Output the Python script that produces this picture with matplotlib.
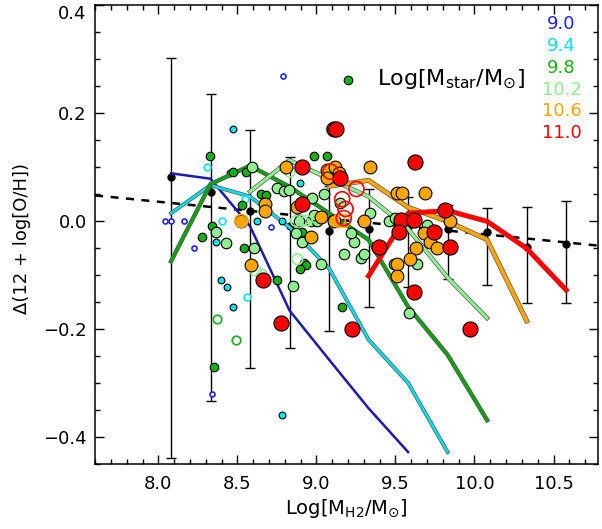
import matplotlib
matplotlib.use('Agg')
import matplotlib.pyplot as plt
import matplotlib.patheffects as pe
from matplotlib.ticker import MultipleLocator
import numpy as np

################################################################
# binned medians with error bars (all galaxies)
bin_x = [8.08, 8.33, 8.58, 8.83, 9.08, 9.33, 9.58, 9.83, 10.08, 10.33, 10.58]
bin_med = [0.081, 0.053, 0.018, -0.010, -0.018, -0.015, -0.011, -0.015, -0.021, -0.048, -0.043]
bin_lo = [-0.439, -0.334, -0.272, -0.236, -0.204, -0.159, -0.122, -0.108, -0.118, -0.152, -0.152]
bin_hi = [0.302, 0.235, 0.168, 0.118, 0.065, 0.059, 0.044, 0.030, 0.024, 0.025, 0.036]

# linear fit (dashed)
fit_slope = -0.0292
fit_icpt = 0.269
fit_range = [7.6, 10.78]

# running medians per stellar mass bin
mass_labels = ['9.0', '9.4', '9.8', '10.2', '10.6', '11.0']
med_x = [bin_x[0:7], bin_x[0:8], bin_x[0:9], bin_x[2:9], bin_x[4:10], bin_x[5:11]]
med_y = [
    [0.088, 0.078, -0.010, -0.166, -0.257, -0.347, -0.428],
    [0.014, 0.066, 0.045, -0.012, -0.088, -0.220, -0.300, -0.428],
    [-0.075, 0.068, 0.102, 0.063, 0.014, -0.035, -0.159, -0.248, -0.369],
    [0.054, 0.112, 0.078, 0.045, -0.015, -0.105, -0.180],
    [0.064, 0.075, 0.025, -0.001, -0.035, -0.185],
    [-0.102, 0.014, 0.019, -0.001, -0.051, -0.128],
]

# individual galaxies, filled symbols
x_90 = []
y_90 = []
x_94 = [8.474, 8.621, 8.784, 8.893, 8.362, 8.394, 8.436, 8.474, 8.784, 8.453]
y_94 = [0.170, 0.000, 0.000, 0.070, -0.039, -0.110, -0.122, -0.160, -0.360, 0.089]
x_98 = [9.201, 8.326, 8.341, 8.474, 8.552, 8.527, 8.647, 8.678, 8.274, 8.541,
        8.984, 9.064, 8.910, 8.920, 8.937, 8.899, 8.752, 8.351, 9.163]
y_98 = [0.260, 0.120, -0.010, 0.090, 0.090, 0.030, 0.050, 0.048, -0.030, -0.050,
        0.120, 0.120, -0.020, -0.078, -0.082, -0.090, -0.110, -0.271, -0.160]
x_102 = [8.594, 8.752, 8.794, 8.826, 8.868, 8.889, 8.963, 9.005, 9.047, 8.604,
         8.362, 8.430, 8.910, 8.852, 9.026, 9.173, 9.279, 9.300, 9.236, 9.216,
         9.342, 9.458, 9.500, 9.489, 9.637, 9.700, 9.584, 8.973, 9.152, 8.984]
y_102 = [0.100, 0.060, 0.055, 0.057, -0.023, 0.000, 0.000, 0.000, 0.050, -0.050,
         -0.020, -0.041, -0.040, -0.120, -0.080, -0.061, -0.069, -0.061, -0.040, -0.022,
         0.015, 0.000, 0.005, -0.080, -0.080, -0.007, -0.171, 0.042, 0.033, 0.010]
x_106 = [8.805, 8.674, 8.674, 8.879, 8.520, 9.030, 8.963, 9.068, 9.120, 9.142,
         9.068, 9.342, 9.300, 9.511, 9.542, 9.690, 9.679, 9.721, 9.764, 9.633,
         9.595, 9.511, 9.511, 9.848, 8.588, 9.110]
y_106 = [0.100, 0.032, 0.018, 0.026, 0.000, 0.008, -0.030, 0.094, 0.100, 0.088,
         0.079, 0.100, 0.000, 0.051, 0.051, 0.051, -0.022, -0.040, -0.050, -0.050,
         -0.071, -0.080, -0.102, -0.001, -0.081, 0.000]
x_110 = [8.910, 8.910, 9.148, 9.110, 9.122, 9.626, 9.532, 9.616, 9.521, 9.816,
         9.742, 9.848, 9.394, 9.616, 9.226, 9.974, 8.773, 8.664]
y_110 = [0.100, 0.031, 0.079, 0.170, 0.170, 0.109, 0.002, 0.002, -0.020, 0.020,
         -0.020, -0.048, -0.048, -0.131, -0.200, -0.200, -0.190, -0.110]

# individual galaxies, open symbols
ox_90 = [8.042, 8.082, 8.164, 8.225, 8.710, 8.790, 8.341]
oy_90 = [0.000, 0.000, 0.000, -0.051, -0.011, 0.269, -0.321]
ox_94 = [8.310, 8.549, 8.400, 8.564]
oy_94 = [0.099, 0.040, 0.000, -0.141]
ox_98 = [8.373, 8.493]
oy_98 = [-0.181, -0.220]
ox_102 = [8.830, 9.095, 8.615, 8.657, 8.870, 8.910, 8.940, 8.879]
oy_102 = [0.091, 0.170, -0.092, -0.100, 0.000, 0.000, 0.000, -0.071]
ox_106 = [9.142, 9.173, 8.525]
oy_106 = [0.000, 0.000, 0.000]
ox_110 = [9.089, 9.253, 9.163, 9.184, 9.173]
oy_110 = [0.091, 0.059, 0.040, 0.022, 0.005]

################################################################

line_cols = ['#1a1ab4', '#00e0e8', '#10a010', '#90ee90', '#ffa500', '#ff0000']
text_cols = ['#2020ff', '#00e8f0', '#18b018', '#90ee90', '#ffa500', '#ff0000']
line_w = [1.8, 1.8, 2.2, 2.2, 2.6, 3.6]
outline = [False, True, True, True, True, False]
sizes = [13, 24, 38, 58, 85, 118]

filled_x = [x_90, x_94, x_98, x_102, x_106, x_110]
filled_y = [y_90, y_94, y_98, y_102, y_106, y_110]
open_x = [ox_90, ox_94, ox_98, ox_102, ox_106, ox_110]
open_y = [oy_90, oy_94, oy_98, oy_102, oy_106, oy_110]
open_face = ['white', 'white', 'white', 'none', 'none', 'none']

plt.rcParams['font.family'] = ['DejaVu Sans']
plt.rcParams['mathtext.fontset'] = 'dejavusans'

fig = plt.figure(figsize=(6.02, 5.29), dpi=100)
ax = fig.add_axes([0.158, 0.123, 0.835, 0.868])

# median of all galaxies
med = np.array(bin_med)
yerr = [med - np.array(bin_lo), np.array(bin_hi) - med]
ax.errorbar(bin_x, bin_med, yerr=yerr, fmt='o', color='k', ms=5,
            elinewidth=1.0, capsize=3.5, capthick=1.0, zorder=1)

xf = np.array(fit_range)
ax.plot(xf, fit_icpt + fit_slope * xf, color='k', lw=1.8, dashes=(3.2, 3.0), zorder=2)

for i in range(len(mass_labels)):
    effects = None
    if outline[i]:
        effects = [pe.Stroke(linewidth=line_w[i] + 1.0, foreground='0.35'), pe.Normal()]
    ax.plot(med_x[i], med_y[i], color=line_cols[i], lw=line_w[i],
            path_effects=effects, zorder=3 + 2 * i)
    if filled_x[i]:
        ax.scatter(filled_x[i], filled_y[i], s=sizes[i], c=text_cols[i],
                   edgecolors='k', linewidths=0.8, zorder=4 + 2 * i)
    if open_x[i]:
        ax.scatter(open_x[i], open_y[i], s=sizes[i], facecolors=open_face[i],
                   edgecolors=text_cols[i], linewidths=1.2, zorder=4 + 2 * i)

ax.set_xlim(7.6, 10.78)
ax.set_ylim(-0.45, 0.4)
ax.xaxis.set_major_locator(MultipleLocator(0.5))
ax.xaxis.set_minor_locator(MultipleLocator(0.1))
ax.yaxis.set_major_locator(MultipleLocator(0.2))
ax.yaxis.set_minor_locator(MultipleLocator(0.05))
ax.xaxis.set_major_formatter(matplotlib.ticker.FormatStrFormatter('%.1f'))
ax.yaxis.set_major_formatter(matplotlib.ticker.FuncFormatter(
    lambda v, p: ('%.1f' % v).replace('-', '\u2212')))
ax.tick_params(which='both', direction='in', top=True, right=True, labelsize=13, width=1.0)
ax.tick_params(which='major', length=6.5)
ax.tick_params(which='minor', length=3.5)
ax.tick_params(axis='x', pad=8)
ax.tick_params(axis='y', pad=6)
for sp in ax.spines.values():
    sp.set_linewidth(1.1)

ax.set_xlabel(r'Log$[\mathrm{M}_{\mathrm{H2}}/\mathrm{M}_{\odot}]$', fontsize=14)
ax.xaxis.set_label_coords(0.5, -0.072)
ax.text(-0.145, 0.49, '\u0394(12 + log[O/H])', transform=ax.transAxes,
        rotation=90, ha='center', va='center', fontsize=13)

ax.text(0.708, 0.837, r'Log$[\mathrm{M}_{\mathrm{star}}/\mathrm{M}_{\odot}]$',
        transform=ax.transAxes, ha='center', va='center', fontsize=16)
label_y = [0.958, 0.910, 0.862, 0.815, 0.768, 0.721]
for i, lab in enumerate(mass_labels):
    ax.text(0.928, label_y[i], lab, transform=ax.transAxes, ha='center', va='center',
            fontsize=13, color=text_cols[i])

# top y label sits inside the figure, as in the original
fig.canvas.draw()
for t in ax.get_yticklabels():
    if t.get_text() == '0.4':
        t.set_va('top')
        t.set_y(0.4 + 0.002)

fig.savefig('out.png', dpi=100)
